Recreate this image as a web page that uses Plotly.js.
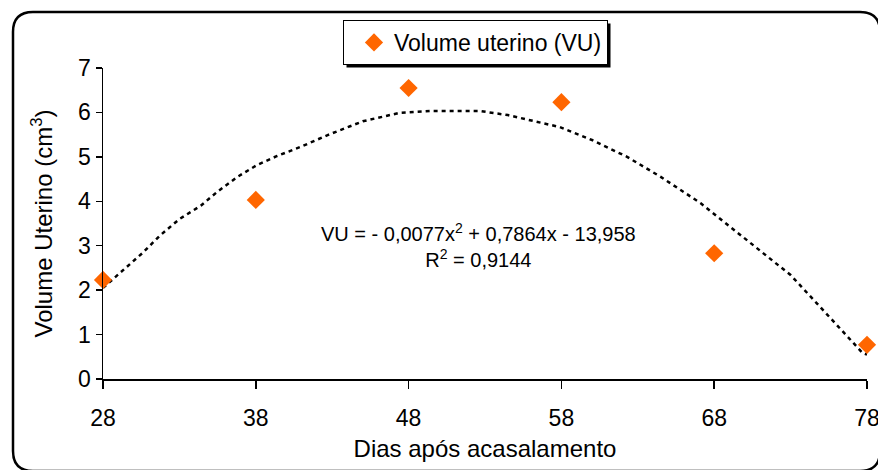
<!DOCTYPE html>
<html>
<head>
<meta charset="utf-8">
<script src="https://cdn.plot.ly/plotly-3.0.1.min.js"></script>
<style>html,body{margin:0;padding:0;background:#fff;}#chart{width:878px;height:470px;}</style>
</head>
<body>
<div id="chart"></div>
<script>
// Data
const dias = [28, 38, 48, 58, 68, 78];
const volume = [2.23, 4.03, 6.55, 6.23, 2.83, 0.77];
// trendline
const trendX = [28, 29.3, 30.6, 31.7, 33.0, 34.4, 35.5, 36.8, 38.1, 39.4, 40.9, 42.7, 45.0, 47.4, 49.4, 52.7, 54.5, 57.9, 60.0, 62.3, 64.5, 67.1, 70.3, 73.0, 74.7, 76.7, 77.7, 78];
const trendY = [2.05, 2.45, 2.84, 3.22, 3.60, 3.90, 4.22, 4.55, 4.82, 5.02, 5.22, 5.49, 5.80, 5.99, 6.03, 6.03, 5.94, 5.67, 5.38, 5.00, 4.55, 3.96, 3.08, 2.34, 1.71, 0.95, 0.59, 0.55];
const xTicks = [28, 38, 48, 58, 68, 78];
const seriesName = 'Volume uterino (VU)';
const eqText = 'VU = - 0,0077x<sup>2</sup> + 0,7864x - 13,958<br>R<sup>2</sup> = 0,9144';

const FONT = 'Liberation Sans, Arial, sans-serif';
const W = 878, H = 470;
const M = {l: 103, r: 11, t: 68, b: 91};
const pw = W - M.l - M.r, ph = H - M.t - M.b;
const px2x = p => (p - M.l) / pw;
const py2y = p => (H - M.b - p) / ph;

function roundRectPath(x0, y0, x1, y1, r) {
  const L = px2x(x0), R = px2x(x1), T = py2y(y0), B = py2y(y1);
  const rx = r / pw, ry = r / ph;
  return `M ${L+rx},${T} L ${R-rx},${T} Q ${R},${T} ${R},${T-ry} L ${R},${B+ry} Q ${R},${B} ${R-rx},${B} ` +
         `L ${L+rx},${B} Q ${L},${B} ${L},${B+ry} L ${L},${T-ry} Q ${L},${T} ${L+rx},${T} Z`;
}

const traces = [
  {x: trendX, y: trendY, mode: 'lines', type: 'scatter', showlegend: false, hoverinfo: 'skip',
   line: {color: '#000', width: 2.5, dash: '4px,4px'}},
  {x: dias, y: volume, mode: 'markers', type: 'scatter', name: seriesName, cliponaxis: false,
   marker: {symbol: 'diamond', size: 14, color: '#FF6600', line: {width: 0}}}
];

const layout = {
  width: W, height: H, margin: M,
  paper_bgcolor: '#fff', plot_bgcolor: '#fff',
  font: {family: FONT, size: 23, color: '#000'},
  showlegend: true,
  legend: {x: px2x(343), y: py2y(20), xanchor: 'left', yanchor: 'top',
           bgcolor: '#fff', bordercolor: '#000', borderwidth: 1,
           font: {family: FONT, size: 23, color: '#000'}, indentation: 10},
  xaxis: {range: [28, 78], tickvals: xTicks, ticktext: xTicks.map(String),
          showline: true, linecolor: '#000', linewidth: 1.5, ticks: 'outside', ticklen: 8, tickwidth: 1.5, tickcolor: '#000',
          showgrid: false, zeroline: false, ticklabelstandoff: 10, ticklabeloverflow: 'allow',
          tickfont: {family: FONT, size: 23}, automargin: 'height',
          title: {text: 'Dias após acasalamento', font: {family: FONT, size: 24}, standoff: 10}},
  yaxis: {range: [0, 7], dtick: 1, tick0: 0,
          showline: true, linecolor: '#000', linewidth: 1.5, ticks: 'outside', ticklen: 6, tickwidth: 1.5, tickcolor: '#000',
          showgrid: false, zeroline: false, automargin: 'width',
          tickfont: {family: FONT, size: 23},
          title: {text: 'Volume Uterino (cm<sup>3</sup>)', font: {family: FONT, size: 24}, standoff: 18}},
  annotations: [{x: 52.6, y: 3.0, xref: 'x', yref: 'y', text: eqText, showarrow: false,
                 font: {family: FONT, size: 20}, align: 'center'}],
  shapes: [{type: 'path', xref: 'paper', yref: 'paper', path: roundRectPath(13, 12, 880, 471, 20),
            line: {color: '#000', width: 2.5}, fillcolor: 'rgba(0,0,0,0)', layer: 'above'}]
};

Plotly.newPlot('chart', traces, layout, {displayModeBar: false, staticPlot: true}).then(gd => {
  const bg = gd.querySelector('.legend .bg');
  if (!bg) return;
  const rc = bg.getBoundingClientRect();
  const root = gd.getBoundingClientRect();
  const x0 = rc.left - root.left + 3, x1 = rc.right - root.left + 3;
  const y0 = rc.top - root.top + 3, y1 = rc.bottom - root.top + 3;
  const shadow = {type: 'rect', xref: 'paper', yref: 'paper', x0: px2x(x0), x1: px2x(x1), y0: py2y(y1), y1: py2y(y0),
                  line: {width: 0}, fillcolor: '#000', layer: 'above'};
  return Plotly.relayout(gd, {shapes: [shadow].concat(layout.shapes)});
});
</script>
</body>
</html>
